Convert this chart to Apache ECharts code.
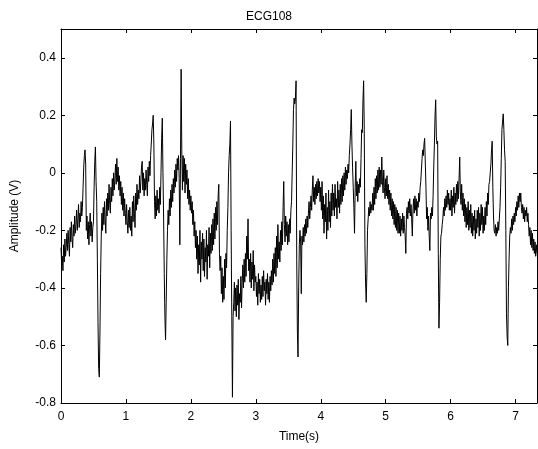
<!DOCTYPE html>
<html>
<head>
<meta charset="utf-8">
<script src="https://cdn.jsdelivr.net/npm/echarts@6/dist/echarts.min.js"></script>
<style>html,body{margin:0;padding:0;background:#fff}#c{width:538px;height:449px}</style>
</head>
<body>
<div id="c"></div>
<script>
// sampling step (s)
const dt = 0.01;
// amplitude values (V), one per 0.01 s, split per second
const seg0 = [-0.26,-0.32,-0.29,-0.34,-0.25,-0.31,-0.23,-0.29,-0.26,-0.21,
-0.27,-0.20,-0.25,-0.29,-0.19,-0.24,-0.17,-0.23,-0.26,-0.18,
-0.22,-0.15,-0.21,-0.18,-0.13,-0.20,-0.16,-0.11,-0.19,-0.14,
-0.17,-0.10,-0.15,-0.12,-0.05,0.02,0.06,0.08,0.03,-0.20,
-0.15,-0.23,-0.17,-0.25,-0.18,-0.14,-0.22,-0.17,-0.24,-0.19,
-0.17,-0.05,0.04,0.09,-0.03,-0.10,-0.30,-0.52,-0.68,-0.71,
-0.55,-0.35,-0.22,-0.14,-0.20,-0.12,-0.18,-0.10,-0.16,-0.21,
-0.09,-0.15,-0.07,-0.13,-0.04,-0.11,-0.14,-0.05,-0.10,-0.02,
-0.08,0.00,-0.06,-0.02,0.03,-0.04,0.05,-0.03,0.02,-0.06,
-0.01,-0.08,-0.03,-0.11,-0.05,-0.13,-0.07,-0.15,-0.09,-0.14];
const seg1 = [-0.18,-0.11,-0.17,-0.21,-0.13,-0.19,-0.12,-0.20,-0.15,-0.22,
-0.10,-0.17,-0.08,-0.14,-0.19,-0.07,-0.13,-0.04,-0.11,-0.06,
-0.09,-0.01,-0.07,-0.03,0.02,0.04,-0.06,0.00,-0.08,-0.02,
-0.06,0.01,-0.04,-0.08,0.02,-0.03,0.04,-0.01,0.06,0.10,
0.15,0.17,0.20,0.10,-0.10,-0.16,-0.08,-0.15,-0.06,-0.13,
-0.09,-0.14,-0.05,-0.11,0.00,0.12,0.19,0.00,-0.15,-0.35,
-0.50,-0.58,-0.45,-0.30,-0.20,-0.13,-0.18,-0.09,-0.15,-0.06,
-0.12,-0.04,-0.10,-0.02,-0.07,0.01,-0.05,0.03,-0.03,0.05,
0.01,0.06,-0.02,-0.25,0.05,0.36,0.08,-0.06,0.06,-0.03,
0.05,-0.07,0.03,-0.04,0.01,-0.09,-0.02,-0.11,-0.06,-0.13];
const seg2 = [-0.08,-0.14,-0.10,-0.18,-0.13,-0.22,-0.17,-0.26,-0.20,-0.30,
-0.22,-0.35,-0.25,-0.32,-0.20,-0.38,-0.24,-0.30,-0.21,-0.34,
-0.23,-0.36,-0.26,-0.31,-0.20,-0.37,-0.25,-0.29,-0.19,-0.33,
-0.21,-0.28,-0.18,-0.27,-0.16,-0.25,-0.14,-0.23,-0.12,-0.20,
-0.10,-0.18,-0.08,-0.04,-0.28,-0.34,-0.29,-0.42,-0.33,-0.45,
-0.36,-0.44,-0.30,-0.40,-0.28,-0.33,-0.20,-0.12,0.00,0.06,
0.10,0.18,-0.20,-0.50,-0.78,-0.50,-0.45,-0.38,-0.48,-0.40,
-0.50,-0.39,-0.46,-0.37,-0.51,-0.42,-0.45,-0.36,-0.47,-0.38,
-0.32,-0.40,-0.30,-0.38,-0.28,-0.36,-0.22,-0.30,-0.16,-0.34,
-0.30,-0.38,-0.28,-0.40,-0.31,-0.37,-0.27,-0.41,-0.32,-0.38];
const seg3 = [-0.36,-0.43,-0.38,-0.46,-0.35,-0.42,-0.37,-0.45,-0.39,-0.44,
-0.36,-0.43,-0.34,-0.41,-0.38,-0.46,-0.37,-0.42,-0.35,-0.44,
-0.38,-0.45,-0.36,-0.41,-0.34,-0.39,-0.30,-0.38,-0.28,-0.35,
-0.26,-0.36,-0.22,-0.33,-0.18,-0.30,-0.24,-0.31,-0.20,-0.27,
-0.17,-0.25,-0.12,-0.03,-0.18,-0.24,-0.15,-0.22,-0.17,-0.25,
-0.18,-0.24,-0.16,-0.21,-0.13,-0.10,0.00,0.10,0.22,0.26,
0.24,0.26,0.32,-0.30,-0.55,-0.64,-0.40,-0.25,-0.20,-0.24,
-0.42,-0.22,-0.25,-0.19,-0.24,-0.18,-0.22,-0.16,-0.21,-0.15,
-0.19,-0.14,-0.10,-0.16,-0.12,-0.08,-0.13,-0.06,-0.01,-0.10,
-0.05,-0.11,-0.04,-0.09,-0.03,-0.08,-0.02,-0.07,-0.03,-0.10];
const seg4 = [-0.05,-0.13,-0.03,-0.16,-0.08,-0.21,-0.11,-0.17,-0.07,-0.23,
-0.12,-0.20,-0.06,-0.17,-0.10,-0.19,-0.07,-0.15,-0.04,-0.13,
-0.07,-0.15,-0.04,-0.12,-0.09,-0.16,-0.03,-0.12,-0.06,-0.14,
-0.04,-0.11,-0.02,-0.10,-0.01,-0.08,0.00,-0.06,0.02,-0.04,
0.01,-0.02,0.03,0.00,0.06,0.10,0.15,0.22,0.10,0.02,
-0.05,-0.12,-0.21,-0.05,0.04,-0.08,-0.03,-0.10,-0.04,-0.07,
-0.02,-0.05,0.05,0.15,0.14,0.25,0.32,0.15,-0.25,-0.38,
-0.45,-0.35,-0.20,-0.16,-0.12,-0.15,-0.10,-0.14,-0.11,-0.13,
-0.07,-0.13,-0.05,-0.11,-0.02,-0.09,-0.01,-0.07,0.01,-0.06,
0.02,-0.05,0.01,-0.04,0.055,-0.03,-0.07,0.01,-0.05,-0.09];
const seg5 = [-0.02,-0.08,-0.01,-0.09,-0.04,-0.11,-0.06,-0.13,-0.07,-0.15,
-0.09,-0.16,-0.10,-0.18,-0.11,-0.19,-0.12,-0.20,-0.13,-0.21,
-0.14,-0.21,-0.15,-0.22,-0.16,-0.20,-0.14,-0.21,-0.15,-0.19,
-0.22,-0.28,-0.14,-0.12,-0.16,-0.10,-0.14,-0.09,-0.15,-0.11,
-0.16,-0.22,-0.13,-0.09,-0.14,-0.08,-0.13,-0.09,-0.15,-0.10,
-0.12,-0.07,-0.10,-0.05,-0.03,0.01,0.05,0.08,0.06,0.10,
0.12,0.125,-0.05,-0.16,-0.12,-0.20,-0.15,-0.22,-0.27,-0.14,
-0.16,-0.12,-0.15,-0.08,0.02,0.10,0.20,0.254,0.125,0.10,
0.11,-0.28,-0.54,-0.45,-0.30,-0.22,-0.21,-0.18,-0.16,-0.12,
-0.15,-0.09,-0.13,-0.08,-0.12,-0.06,-0.11,-0.07,-0.13,-0.09];
const seg6 = [-0.13,-0.06,-0.15,-0.08,-0.12,-0.05,-0.14,-0.07,-0.11,-0.04,
-0.10,-0.03,-0.09,-0.02,0.055,-0.07,-0.11,-0.04,-0.13,-0.07,
-0.15,-0.09,-0.17,-0.11,-0.19,-0.12,-0.18,-0.10,-0.20,-0.13,
-0.19,-0.11,-0.21,-0.14,-0.22,-0.15,-0.20,-0.13,-0.23,-0.16,
-0.21,-0.13,-0.19,-0.12,-0.22,-0.14,-0.20,-0.11,-0.18,-0.12,
-0.21,-0.15,-0.20,-0.12,-0.18,-0.10,-0.15,-0.07,-0.11,-0.04,
-0.03,0.00,0.03,0.08,0.11,-0.05,-0.15,-0.20,-0.21,-0.18,
-0.22,-0.19,-0.21,-0.17,-0.20,-0.16,-0.12,-0.05,0.05,0.15,
0.18,0.205,0.15,0.08,0.04,-0.20,-0.49,-0.57,-0.60,-0.40,
-0.30,-0.22,-0.19,-0.21,-0.16,-0.20,-0.15,-0.18,-0.14,-0.17];
const seg7 = [-0.12,-0.15,-0.10,-0.13,-0.08,-0.12,-0.07,-0.10,-0.07,-0.12,
-0.14,-0.11,-0.16,-0.12,-0.17,-0.13,-0.15,-0.12,-0.17,-0.14,
-0.18,-0.22,-0.19,-0.25,-0.20,-0.26,-0.21,-0.27,-0.23,-0.28,
-0.24,-0.29,-0.25,-0.28];
const xTicks = [0, 1, 2, 3, 4, 5, 6, 7];
const yTicks = [-0.8, -0.6, -0.4, -0.2, 0, 0.2, 0.4];
const xMax = 7.33, yMin = -0.8, yMax = 0.5;

const values = seg0.concat(seg1, seg2, seg3, seg4, seg5, seg6, seg7);
const data = values.map((v, i) => [+(i * dt).toFixed(2), v]);

const FONT = 'Liberation Sans, Arial, sans-serif';
const chart = echarts.init(document.getElementById('c'), null, {renderer: 'canvas'});
const axisCommon = {
  axisLine: {show: true, onZero: false, lineStyle: {color: '#000', width: 1}},
  axisTick: {show: true, inside: true, length: 4, lineStyle: {color: '#000'}},
  splitLine: {show: false}
};
chart.setOption({
  animation: false,
  backgroundColor: '#fff',
  title: {text: 'ECG108', left: 'center', top: 6,
    textStyle: {fontSize: 12, fontWeight: 'normal', color: '#000', fontFamily: FONT}},
  grid: {left: 61, right: 1, top: 29, bottom: 46},
  xAxis: [
    Object.assign({type: 'value', min: 0, max: xMax, interval: 1, position: 'bottom',
      name: 'Time(s)', nameLocation: 'middle', nameGap: 28,
      nameTextStyle: {fontSize: 12, color: '#000', fontFamily: FONT},
      axisLabel: {fontSize: 12, color: '#000', fontFamily: FONT, margin: 8, showMaxLabel: false,
        formatter: v => xTicks.includes(v) ? String(v) : ''}}, axisCommon),
    Object.assign({type: 'value', min: 0, max: xMax, interval: 1, position: 'top',
      axisLabel: {show: false}}, axisCommon)
  ],
  yAxis: [
    Object.assign({type: 'value', min: yMin, max: yMax, interval: 0.2, position: 'left',
      name: 'Amplitude (V)', nameLocation: 'middle', nameGap: 40, nameRotate: 90,
      nameTextStyle: {fontSize: 12, color: '#000', fontFamily: FONT},
      axisLabel: {fontSize: 12, color: '#000', fontFamily: FONT, margin: 5, showMaxLabel: false,
        formatter: v => { const r = Math.round(v * 10) / 10; return yTicks.some(t => Math.abs(t - r) < 1e-9) ? String(r) : ''; }}}, axisCommon),
    Object.assign({type: 'value', min: yMin, max: yMax, interval: 0.2, position: 'right',
      axisLabel: {show: false}}, axisCommon)
  ],
  series: [{
    type: 'line', data: data, showSymbol: false, symbol: 'none', sampling: null,
    lineStyle: {color: '#000', width: 1}, z: 3
  }]
});
</script>
</body>
</html>
